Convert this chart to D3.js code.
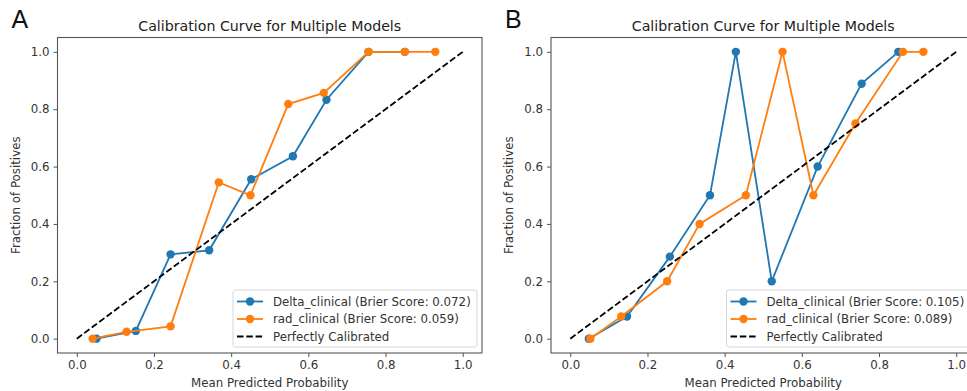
<!DOCTYPE html>
<html>
<head>
<meta charset="utf-8">
<script src="https://cdn.jsdelivr.net/npm/d3@7"></script>
<style>
  body { margin: 0; background: #fff; }
  svg { display: block; font-family: "DejaVu Sans", sans-serif; }
</style>
</head>
<body>
<svg id="chart" width="967" height="391"></svg>
<script>
// panel A data
var deltaA_x = [0.051, 0.153, 0.243, 0.343, 0.452, 0.560, 0.647, 0.756, 0.850];
var deltaA_y = [0.0, 0.027, 0.294, 0.308, 0.556, 0.636, 0.833, 1.0, 1.0];
var radA_x = [0.041, 0.129, 0.243, 0.368, 0.450, 0.548, 0.640, 0.756, 0.850, 0.929];
var radA_y = [0.0, 0.024, 0.043, 0.545, 0.5, 0.818, 0.857, 1.0, 1.0, 1.0];

// panel B data
var deltaB_x = [0.048, 0.147, 0.258, 0.362, 0.429, 0.522, 0.641, 0.755, 0.850];
var deltaB_y = [0.0, 0.077, 0.286, 0.5, 1.0, 0.2, 0.6, 0.889, 1.0];
var radB_x = [0.052, 0.132, 0.251, 0.335, 0.455, 0.550, 0.630, 0.739, 0.862, 0.915];
var radB_y = [0.0, 0.077, 0.2, 0.4, 0.5, 1.0, 0.5, 0.75, 1.0, 1.0];

var ticks = [0.0, 0.2, 0.4, 0.6, 0.8, 1.0];
var brierA = ["0.072", "0.059"];
var brierB = ["0.105", "0.089"];

var blue = "#1f77b4", orange = "#ff7f0e";
var svg = d3.select("#chart");

function zip(xs, ys) {
    return xs.map(function (x, i) { return [x, ys[i]]; });
}

function drawPanel(letter, left, series, scores) {
    var right = left + 424.5,
        top = 37.5,
        bottom = 353;

    var x = d3.scaleLinear().domain([-0.05, 1.05]).range([left, right]);
    var y = d3.scaleLinear().domain([-0.05, 1.05]).range([bottom, top]);

    var g = svg.append("g");

    // panel letter
    g.append("text")
        .attr("x", left - 46)
        .attr("y", 28)
        .style("font-family", "'Liberation Sans', Arial, sans-serif")
        .style("font-size", "25px")
        .attr("fill", "#111")
        .text(letter);

    // title
    g.append("text")
        .attr("x", (left + right) / 2)
        .attr("y", 31)
        .attr("text-anchor", "middle")
        .style("font-size", "14.2px")
        .attr("fill", "#222")
        .text("Calibration Curve for Multiple Models");

    // axes
    var xAxis = d3.axisBottom(x).tickValues(ticks).tickFormat(d3.format(".1f")).tickSize(4).tickPadding(4);
    var yAxis = d3.axisLeft(y).tickValues(ticks).tickFormat(d3.format(".1f")).tickSize(4).tickPadding(4);

    var gx = g.append("g").attr("transform", "translate(0," + bottom + ")").call(xAxis);
    var gy = g.append("g").attr("transform", "translate(" + left + ",0)").call(yAxis);
    [gx, gy].forEach(function (a) {
        a.select(".domain").remove();
        a.selectAll("line").attr("stroke", "#555");
        a.selectAll("text").style("font-size", "11.8px").style("font-family", "'DejaVu Sans', sans-serif").attr("fill", "#333");
    });

    // frame
    g.append("rect")
        .attr("x", left).attr("y", top)
        .attr("width", right - left).attr("height", bottom - top)
        .attr("fill", "none").attr("stroke", "#555").attr("stroke-width", 1.1);

    // axis labels
    g.append("text")
        .attr("x", (left + right) / 2)
        .attr("y", 387)
        .attr("text-anchor", "middle")
        .style("font-size", "11.8px")
        .attr("fill", "#333")
        .text("Mean Predicted Probability");

    g.append("text")
        .attr("transform", "translate(" + (left - 38) + "," + ((top + bottom) / 2) + ") rotate(-90)")
        .attr("text-anchor", "middle")
        .style("font-size", "11.8px")
        .attr("fill", "#333")
        .text("Fraction of Positives");

    var line = d3.line().x(function (d) { return x(d[0]); }).y(function (d) { return y(d[1]); });

    series.forEach(function (s) {
        g.append("path")
            .datum(s.data)
            .attr("d", line)
            .attr("fill", "none")
            .attr("stroke", s.color)
            .attr("stroke-width", 1.8);
        g.selectAll(null)
            .data(s.data)
            .enter().append("circle")
            .attr("cx", function (d) { return x(d[0]); })
            .attr("cy", function (d) { return y(d[1]); })
            .attr("r", 4.2)
            .attr("fill", s.color);
    });

    // perfectly calibrated
    g.append("path")
        .datum([[0, 0], [1, 1]])
        .attr("d", line)
        .attr("stroke", "#000")
        .attr("stroke-width", 1.8)
        .attr("stroke-dasharray", "6.5,2.8");

    // legend
    var lw = 244, lh = 57;
    var lx = right - 5 - lw, ly = 290;
    var leg = g.append("g").attr("transform", "translate(" + lx + "," + ly + ")");
    leg.append("rect")
        .attr("width", lw).attr("height", lh)
        .attr("rx", 2.5)
        .attr("fill", "rgba(255,255,255,0.85)")
        .attr("stroke", "#d6d6d6");

    var items = [
        { label: "Delta_clinical (Brier Score: " + scores[0] + ")", color: blue, marker: true },
        { label: "rad_clinical (Brier Score: " + scores[1] + ")", color: orange, marker: true },
        { label: "Perfectly Calibrated", color: "#000", marker: false }
    ];
    items.forEach(function (it, i) {
        var cy = 11.5 + i * 17.5;
        leg.append("line")
            .attr("x1", 4).attr("x2", 30).attr("y1", cy).attr("y2", cy)
            .attr("stroke", it.color).attr("stroke-width", 1.8)
            .attr("stroke-dasharray", it.marker ? null : "6.5,2.8");
        if (it.marker) {
            leg.append("circle").attr("cx", 17).attr("cy", cy).attr("r", 4.2).attr("fill", it.color);
        }
        leg.append("text")
            .attr("x", 40).attr("y", cy + 4.2)
            .style("font-size", "11.8px")
            .attr("fill", "#333")
            .text(it.label);
    });
}

drawPanel("A", 57.5, [
    { data: zip(deltaA_x, deltaA_y), color: blue },
    { data: zip(radA_x, radA_y), color: orange }
], brierA);

drawPanel("B", 551, [
    { data: zip(deltaB_x, deltaB_y), color: blue },
    { data: zip(radB_x, radB_y), color: orange }
], brierB);
</script>
</body>
</html>
